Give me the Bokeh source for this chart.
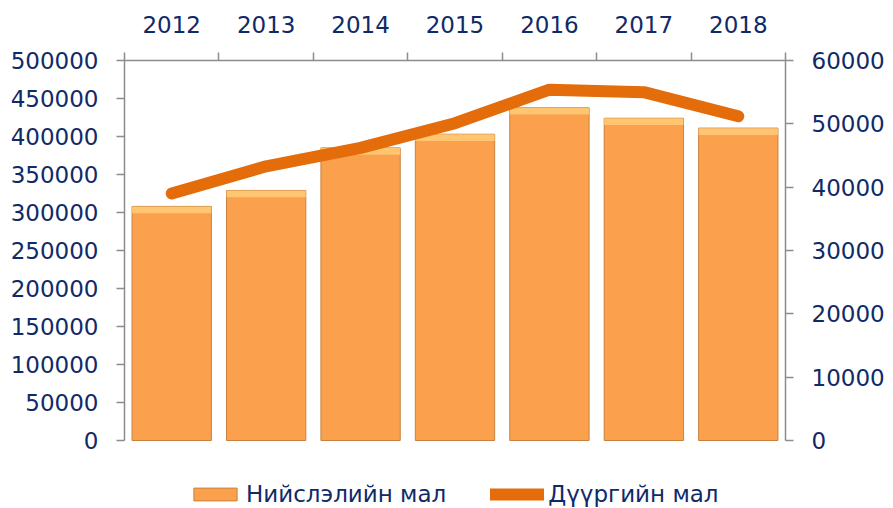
from bokeh.plotting import figure
from bokeh.models import (Range1d, LinearAxis, FixedTicker, Legend, LegendItem,
                          ColumnDataSource)
from bokeh.embed import file_html
from bokeh.resources import INLINE

years = ["2012", "2013", "2014", "2015", "2016", "2017", "2018"]
capital_livestock = [308000, 329000, 385000, 403000, 438000, 424000, 411000]
district_livestock = [39000, 43300, 46200, 50100, 55400, 55000, 51200]
left_ticks = [0, 50000, 100000, 150000, 200000, 250000, 300000, 350000, 400000, 450000, 500000]
right_ticks = [0, 10000, 20000, 30000, 40000, 50000, 60000]
series_names = ["Нийслэлийн мал", "Дүүргийн мал"]

FONT = "DejaVu Sans"
FS = "23px"
NAVY = "#0F2A68"
GRAY = "#8C8C8C"
BAR = "#FBA04C"
BAR_TOP = "#FFCB78"
BAR_EDGE = "#C9803E"
LINE = "#E46C0A"

LMAX, RMAX = 500000, 60000
AXIS_PX, PAD_PX = 380, 68          # axis height in px, room below axis for legend
pad = PAD_PX / AXIS_PX

xc = [i + 0.5 for i in range(len(years))]
bevel = 9000
src = ColumnDataSource(dict(x=xc, top=capital_livestock,
                            band=[v - bevel for v in capital_livestock],
                            d=district_livestock))

p = figure(width=893, height=508, output_backend="svg", toolbar_location=None,
           x_range=Range1d(0, len(years)), y_range=Range1d(-LMAX * pad, LMAX),
           x_axis_location="above", min_border_left=124, min_border_right=108,
           min_border_top=60, min_border_bottom=0)
p.extra_y_ranges = {"right": Range1d(-RMAX * pad, RMAX)}
p.outline_line_color = None
p.xgrid.grid_line_color = None
p.ygrid.grid_line_color = None
p.background_fill_color = "white"
p.border_fill_color = "white"

# bars
bars = p.vbar(x="x", top="top", bottom=0, width=0.84, source=src,
              fill_color=BAR, line_color=BAR_EDGE, line_width=1)
p.vbar(x="x", top="top", bottom="band", width=0.84, source=src,
       fill_color=BAR_TOP, line_color=None, fill_alpha=0.85)
line = p.line(x="x", y="d", source=src, y_range_name="right", line_color=LINE,
              line_width=12, line_cap="round", line_join="round")

# top axis
xa = p.xaxis[0]
xa.ticker = FixedTicker(ticks=xc, minor_ticks=list(range(len(years) + 1)))
xa.major_label_overrides = {x: y for x, y in zip(xc, years)}
xa.major_tick_out = 8
xa.major_tick_in = 0
xa.major_tick_line_color = None
xa.minor_tick_out = 8
xa.minor_tick_in = 0
xa.minor_tick_line_color = GRAY
xa.minor_tick_line_width = 1.5
xa.axis_line_color = GRAY
xa.axis_line_width = 1.5
xa.major_label_text_font = FONT
xa.major_label_text_font_size = FS
xa.major_label_text_color = NAVY
xa.major_label_standoff = 20

def style_y(ax):
    ax.formatter.use_scientific = False
    ax.major_tick_out = 8
    ax.major_tick_in = 0
    ax.minor_tick_line_color = None
    ax.major_tick_line_color = GRAY
    ax.major_tick_line_width = 1.5
    ax.axis_line_color = GRAY
    ax.axis_line_width = 1.5
    ax.major_label_text_font = FONT
    ax.major_label_text_font_size = FS
    ax.major_label_text_color = NAVY
    ax.major_label_standoff = 18

# left axis
ya = p.yaxis[0]
ya.ticker = FixedTicker(ticks=left_ticks)
ya.bounds = (0, LMAX)
style_y(ya)

# right axis
ra = LinearAxis(y_range_name="right", ticker=FixedTicker(ticks=right_ticks),
                bounds=(0, RMAX))
style_y(ra)
p.add_layout(ra, "right")

legend = Legend(items=[LegendItem(label=series_names[0], renderers=[bars]),
                       LegendItem(label=series_names[1], renderers=[line])],
                orientation="horizontal", location=(64, 1),
                label_text_font=FONT, label_text_font_size=FS,
                label_text_color=NAVY, glyph_width=54, glyph_height=16,
                label_standoff=4, spacing=44, padding=0, margin=0,
                border_line_color=None, background_fill_alpha=0)
p.add_layout(legend, "center")

open("out.html", "w").write(file_html(p, INLINE))
